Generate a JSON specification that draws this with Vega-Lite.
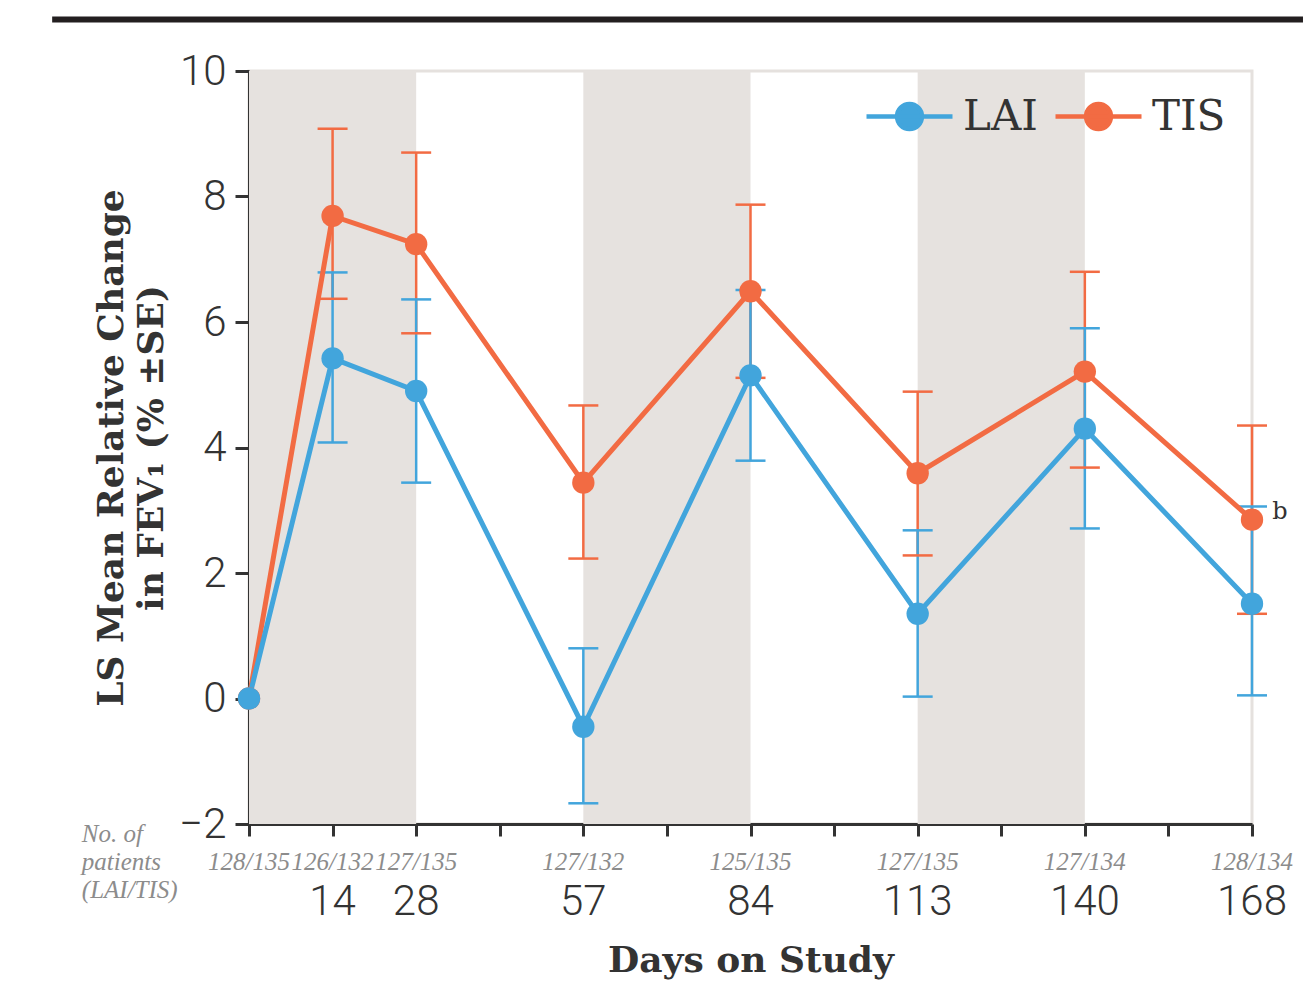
{
  "$schema": "https://vega.github.io/schema/vega-lite/v6.json",
  "width": 1003,
  "height": 753,
  "autosize": {"type": "none"},
  "padding": {"left": 249, "top": 71, "right": 51, "bottom": 169},
  "background": "white",
  "config": {
    "view": {"stroke": "#e5e1de", "strokeWidth": 3},
    "axis": {"grid": false}
  },
  "datasets": {
    "series": [
      {"series": "TIS", "week": 0, "mean": 0, "lo": null, "hi": null},
      {"series": "TIS", "week": 2, "mean": 7.69, "lo": 6.37, "hi": 9.08},
      {"series": "TIS", "week": 4, "mean": 7.24, "lo": 5.82, "hi": 8.70},
      {"series": "TIS", "week": 8, "mean": 3.44, "lo": 2.23, "hi": 4.67},
      {"series": "TIS", "week": 12, "mean": 6.49, "lo": 5.11, "hi": 7.87},
      {"series": "TIS", "week": 16, "mean": 3.59, "lo": 2.28, "hi": 4.89},
      {"series": "TIS", "week": 20, "mean": 5.21, "lo": 3.68, "hi": 6.80},
      {"series": "TIS", "week": 24, "mean": 2.85, "lo": 1.35, "hi": 4.35},
      {"series": "LAI", "week": 0, "mean": 0, "lo": null, "hi": null},
      {"series": "LAI", "week": 2, "mean": 5.42, "lo": 4.08, "hi": 6.79},
      {"series": "LAI", "week": 4, "mean": 4.90, "lo": 3.44, "hi": 6.36},
      {"series": "LAI", "week": 8, "mean": -0.45, "lo": -1.67, "hi": 0.80},
      {"series": "LAI", "week": 12, "mean": 5.15, "lo": 3.79, "hi": 6.51},
      {"series": "LAI", "week": 16, "mean": 1.35, "lo": 0.03, "hi": 2.68},
      {"series": "LAI", "week": 20, "mean": 4.30, "lo": 2.71, "hi": 5.90},
      {"series": "LAI", "week": 24, "mean": 1.51, "lo": 0.05, "hi": 3.06}
    ],
    "timepoints": [
      {"week": 0, "day": "", "n": "128/135"},
      {"week": 2, "day": "14", "n": "126/132"},
      {"week": 4, "day": "28", "n": "127/135"},
      {"week": 8, "day": "57", "n": "127/132"},
      {"week": 12, "day": "84", "n": "125/135"},
      {"week": 16, "day": "113", "n": "127/135"},
      {"week": 20, "day": "140", "n": "127/134"},
      {"week": 24, "day": "168", "n": "128/134"}
    ],
    "bands": [
      {"start": 0, "end": 4},
      {"start": 8, "end": 12},
      {"start": 16, "end": 20}
    ],
    "frame": [
      {"x1": -4.71, "x2": 25.22, "y": 10.82}
    ]
  },
  "layer": [
    {
      "data": {"name": "bands"},
      "mark": {"type": "rect", "color": "#e6e2df"},
      "encoding": {
        "x": {"field": "start", "type": "quantitative", "scale": {"domain": [0, 24], "nice": false, "zero": false},
          "axis": {
            "values": [0, 2, 4, 6, 8, 10, 12, 14, 16, 18, 20, 22, 24],
            "labels": false,
            "domainColor": "#333333", "domainWidth": 3,
            "tickColor": "#333333", "tickWidth": 3, "tickSize": 12,
            "title": "Days on Study",
            "titleFont": "DejaVu Serif", "titleFontWeight": "bold", "titleFontSize": 36,
            "titleColor": "#333333", "titlePadding": 106
          }
        },
        "x2": {"field": "end"}
      }
    },
    {
      "mark": {"type": "rule", "color": "#8a8a8a", "strokeWidth": 2.5, "strokeDash": [12, 9]},
      "encoding": {"y": {"datum": 0, "type": "quantitative"}}
    },
    {
      "data": {"name": "series"},
      "transform": [{"filter": "isValid(datum.lo)"}],
      "mark": {"type": "rule", "strokeWidth": 2.5},
      "encoding": {
        "x": {"field": "week", "type": "quantitative"},
        "y": {"field": "lo", "type": "quantitative"},
        "y2": {"field": "hi"},
        "color": {"field": "series", "type": "nominal",
          "scale": {"domain": ["LAI", "TIS"], "range": ["#42a5dc", "#f26b43"]},
          "legend": {
            "title": null,
            "orient": "none", "legendX": 615, "legendY": 0,
            "direction": "horizontal", "columns": 2, "columnPadding": 8,
            "padding": 0,
            "symbolType": "M-1,0L1,0M0.29,0A0.29,0.29,0,1,1,-0.29,0A0.29,0.29,0,1,1,0.29,0",
            "symbolSize": 7396, "symbolStrokeWidth": 4.5,
            "labelFont": "DejaVu Serif", "labelFontSize": 42, "labelColor": "#333333",
            "labelOffset": 8, "labelLimit": 300,
            "encode": {
              "symbols": {"update": {
                "fill": {"scale": "color", "field": "value"},
                "stroke": {"scale": "color", "field": "value"},
                "strokeWidth": {"value": 4.5},
                "opacity": {"value": 1}
              }}
            }
          }
        }
      }
    },
    {
      "data": {"name": "series"},
      "transform": [{"filter": "isValid(datum.lo)"}],
      "mark": {"type": "tick", "orient": "horizontal", "size": 30, "thickness": 2.5, "opacity": 1},
      "encoding": {
        "x": {"field": "week", "type": "quantitative"},
        "y": {"field": "lo", "type": "quantitative"},
        "color": {"field": "series", "type": "nominal"}
      }
    },
    {
      "data": {"name": "series"},
      "transform": [{"filter": "isValid(datum.hi)"}],
      "mark": {"type": "tick", "orient": "horizontal", "size": 30, "thickness": 2.5, "opacity": 1},
      "encoding": {
        "x": {"field": "week", "type": "quantitative"},
        "y": {"field": "hi", "type": "quantitative"},
        "color": {"field": "series", "type": "nominal"}
      }
    },
    {
      "data": {"name": "series"},
      "mark": {"type": "line", "strokeWidth": 5},
      "encoding": {
        "x": {"field": "week", "type": "quantitative"},
        "y": {"field": "mean", "type": "quantitative"},
        "color": {"field": "series", "type": "nominal"},
        "order": {"field": "week"}
      }
    },
    {
      "data": {"name": "series"},
      "mark": {"type": "point", "filled": true, "size": 500, "opacity": 1},
      "encoding": {
        "x": {"field": "week", "type": "quantitative"},
        "y": {"field": "mean", "type": "quantitative",
          "scale": {"domain": [-2, 10], "nice": false, "zero": false},
          "axis": {
            "values": [-2, 0, 2, 4, 6, 8, 10],
            "format": "d",
            "domainColor": "#333333", "domainWidth": 3,
            "tickColor": "#333333", "tickWidth": 3, "tickSize": 14,
            "labelFont": "Roboto", "labelFontWeight": 300, "labelFontSize": 42,
            "labelColor": "#333333", "labelPadding": 9,
            "title": ["LS Mean Relative Change", "in FEV₁ (% ±SE)"],
            "titleFont": "DejaVu Serif", "titleFontWeight": "bold", "titleFontSize": 36,
            "titleLineHeight": 40, "titleColor": "#333333", "titlePadding": 8
          }
        },
        "color": {"field": "series", "type": "nominal"}
      }
    },
    {
      "data": {"name": "timepoints"},
      "mark": {"type": "text", "baseline": "middle", "align": "center", "dy": 38,
        "font": "Liberation Serif", "fontStyle": "italic", "fontSize": 25, "color": "#8c8c8c"},
      "encoding": {
        "x": {"field": "week", "type": "quantitative"},
        "y": {"datum": -2, "type": "quantitative"},
        "text": {"field": "n"}
      }
    },
    {
      "data": {"name": "timepoints"},
      "mark": {"type": "text", "baseline": "middle", "align": "center", "dy": 78,
        "font": "Roboto", "fontWeight": 300, "fontSize": 42, "color": "#333333"},
      "encoding": {
        "x": {"field": "week", "type": "quantitative"},
        "y": {"datum": -2, "type": "quantitative"},
        "text": {"field": "day"}
      }
    },
    {
      "data": {"values": [{"week": -4.0, "value": -2, "label": "No. of\npatients\n(LAI/TIS)"}]},
      "mark": {"type": "text", "baseline": "top", "align": "left", "dy": -2, "lineBreak": "\n", "lineHeight": 28,
        "font": "Liberation Serif", "fontStyle": "italic", "fontSize": 25, "color": "#8c8c8c"},
      "encoding": {
        "x": {"field": "week", "type": "quantitative"},
        "y": {"field": "value", "type": "quantitative"},
        "text": {"field": "label"}
      }
    },
    {
      "data": {"values": [{"week": 24, "value": 2.85, "label": "b"}]},
      "mark": {"type": "text", "baseline": "middle", "align": "center", "dx": 28, "dy": -8,
        "font": "DejaVu Serif", "fontSize": 24, "color": "#333333"},
      "encoding": {
        "x": {"field": "week", "type": "quantitative"},
        "y": {"field": "value", "type": "quantitative"},
        "text": {"field": "label"}
      }
    },
    {
      "data": {"name": "frame"},
      "mark": {"type": "rule", "color": "#231f20", "strokeWidth": 6, "clip": false},
      "encoding": {
        "x": {"field": "x1", "type": "quantitative"},
        "x2": {"field": "x2"},
        "y": {"field": "y", "type": "quantitative"}
      }
    }
  ]
}
